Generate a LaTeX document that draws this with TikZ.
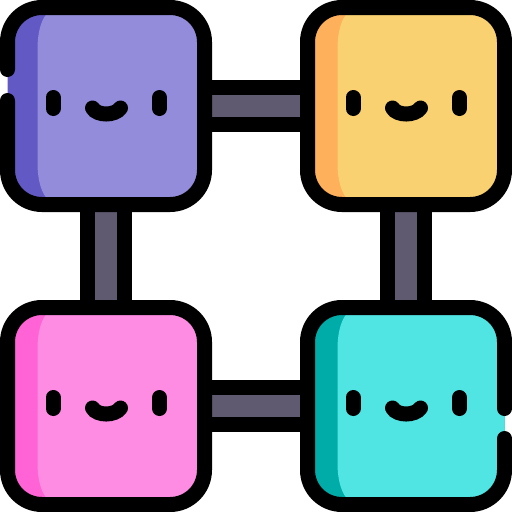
\documentclass[tikz,border=0pt]{standalone}
\usetikzlibrary{calc,backgrounds}
\definecolor{linkc}{HTML}{5F5A70}
\definecolor{violetL}{HTML}{938CDB}\definecolor{violetD}{HTML}{6359C5}
\definecolor{orangeL}{HTML}{F9D171}\definecolor{orangeD}{HTML}{FFB05A}
\definecolor{pinkL}{HTML}{FE8CE3}\definecolor{pinkD}{HTML}{FF63D5}
\definecolor{cyanL}{HTML}{50E5E2}\definecolor{cyanD}{HTML}{00ACA8}
\tikzset{
  tile/.style n args={2}{rectangle,inner sep=0pt,outer sep=0pt,minimum size=197pt,
    rounded corners=34.5pt,fill=#2,path picture={
      \fill[#1,sharp corners]
        (-50.5,-98.5) .. controls (-62.5,-94.5) and (-68.5,-78.5) .. (-68.5,-56.5) -- (-68.5,56.5)
        .. controls (-68.5,78.5) and (-62.5,94.5) .. (-50.5,98.5) -- (101.5,98.5) -- (101.5,-98.5) -- cycle;
    }},
  outline/.style={draw=black,line width=15pt,line cap=round,rounded corners=34.5pt},
  linkbar/.style={draw=black,line width=15pt,double=linkc,double distance=22pt},
  feature/.style={draw=black,line width=15pt,line cap=round},
  face/.pic={
    \draw[feature] (-53,-8.5) -- (-53,2.5);
    \draw[feature] (53.5,-8.5) -- (53.5,2.5);
    \draw[feature] (-13.5,2) .. controls (-9,10) and (9,10) .. (14.5,2);
  }
}
\begin{document}
\begin{tikzpicture}[x=1pt,y=-1pt]
\useasboundingbox (0,0) rectangle (512,512);
\node[tile={violetL}{violetD}] (a) at (106,106) {};
\node[tile={orangeL}{orangeD}] (b) at (406,106) {};
\node[tile={pinkL}{pinkD}] (c) at (106,406) {};
\node[tile={cyanL}{cyanD}] (d) at (406,406) {};
\begin{scope}[on background layer]
  \draw[linkbar] (a) -- (b);
  \draw[linkbar] (c) -- (d);
  \draw[linkbar] (a) -- (c);
  \draw[linkbar] (b) -- (d);
\end{scope}
\draw[outline] ($(a.north west)+(0,62)$) -- (a.north west) -- (a.north east) -- (a.south east) -- (a.south west) -- ($(a.north west)+(0,93)$);
\draw[outline] (b.north west) -- (b.north east) -- (b.south east) -- (b.south west) -- cycle;
\draw[outline] (c.north west) -- (c.north east) -- (c.south east) -- (c.south west) -- cycle;
\draw[outline] ($(d.north east)+(0,101)$) -- (d.north east) -- (d.north west) -- (d.south west) -- (d.south east) -- ($(d.north east)+(0,131)$);
\pic at (a.center) {face};
\pic at (b.center) {face};
\pic at (c.center) {face};
\pic at (d.center) {face};
\end{tikzpicture}
\end{document}
